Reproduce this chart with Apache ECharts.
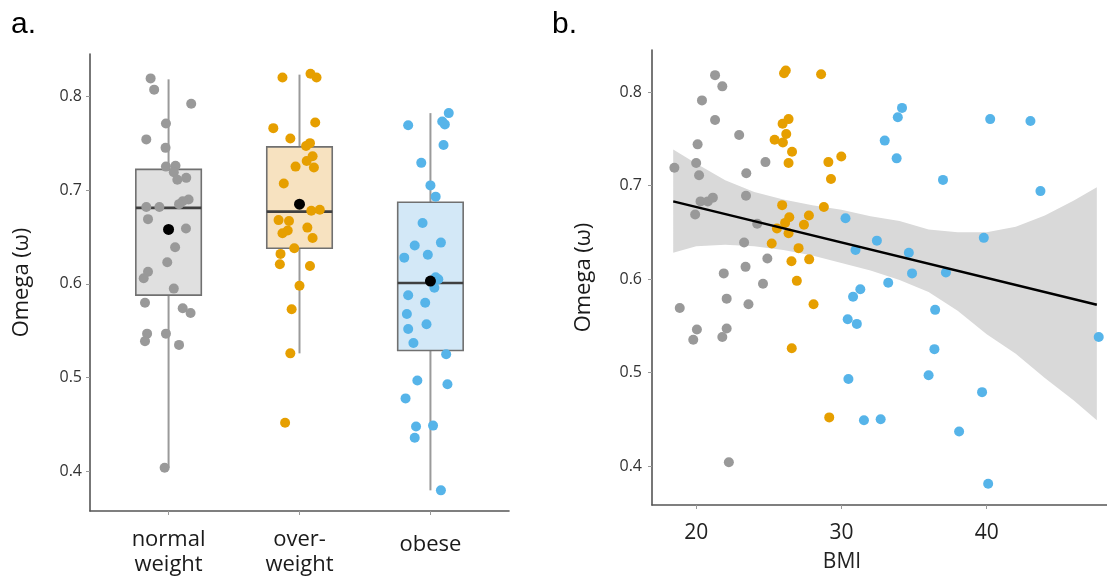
<!DOCTYPE html>
<html>
<head>
<meta charset="utf-8">
<script src="https://cdn.jsdelivr.net/npm/echarts@6/dist/echarts.min.js"></script>
<style>
  html, body { margin: 0; padding: 0; background: #fff; }
  #chart { width: 1107px; height: 581px; }
</style>
</head>
<body>
<div id="chart"></div>
<script>
// groups on panel a (x = 1, 2, 3)
const groups = ['normal\nweight', 'over-\nweight', 'obese']

// panel a: jittered x position and omega
const normalX = [0.863, 0.89, 1.173, 0.98, 0.83, 0.977, 0.98, 1.053, 1.04, 1.067, 1.135, 1.153, 1.108, 1.08, 0.83, 0.93, 0.843, 1.133, 1.05, 0.99, 0.843, 0.81, 1.04, 0.82, 1.108, 1.168, 0.836, 0.98, 0.82, 1.08, 0.97]
const normalW = [0.819, 0.807, 0.792, 0.771, 0.754, 0.745, 0.725, 0.726, 0.719, 0.711, 0.713, 0.690, 0.688, 0.685, 0.682, 0.682, 0.669, 0.659, 0.639, 0.623, 0.613, 0.606, 0.595, 0.580, 0.574, 0.569, 0.547, 0.547, 0.539, 0.535, 0.404]
const overX = [1.87, 2.084, 2.13, 2.12, 1.80, 1.93, 2.08, 2.05, 2.10, 2.055, 1.97, 2.11, 1.88, 2.09, 2.155, 1.84, 1.92, 1.91, 1.87, 2.06, 2.10, 1.96, 1.855, 1.85, 2.08, 2.0, 1.94, 1.93, 1.89]
const overW = [0.820, 0.824, 0.820, 0.772, 0.766, 0.755, 0.750, 0.747, 0.736, 0.731, 0.725, 0.724, 0.707, 0.678, 0.679, 0.668, 0.667, 0.657, 0.654, 0.660, 0.649, 0.638, 0.632, 0.621, 0.619, 0.598, 0.573, 0.526, 0.452]
const obeseX = [3.14, 3.09, 3.11, 2.83, 3.10, 2.93, 3.0, 3.04, 2.94, 2.88, 3.08, 2.98, 2.80, 3.04, 3.03, 3.06, 2.83, 2.96, 2.82, 2.83, 2.97, 2.87, 3.12, 2.90, 3.13, 2.81, 2.89, 3.02, 2.88, 3.08]
const obeseW = [0.782, 0.773, 0.770, 0.769, 0.748, 0.729, 0.705, 0.693, 0.665, 0.641, 0.644, 0.631, 0.628, 0.607, 0.596, 0.605, 0.588, 0.580, 0.568, 0.552, 0.557, 0.537, 0.525, 0.497, 0.493, 0.478, 0.448, 0.449, 0.436, 0.380]

// panel a: box stats (lower whisker, q1, median, q3, upper whisker) and means
const boxLow = [0.404, 0.526, 0.380]
const boxQ1 = [0.588, 0.638, 0.529]
const boxMed = [0.681, 0.677, 0.601]
const boxQ3 = [0.722, 0.746, 0.687]
const boxHigh = [0.818, 0.823, 0.782]
const groupMeans = [0.658, 0.685, 0.603]

// panel b: BMI and omega
const normalBmi = [18.5, 18.87, 19.8, 20.05, 19.93, 20.1, 20.0, 20.2, 20.4, 20.3, 20.8, 21.15, 21.3, 21.3, 21.8, 21.9, 22.1, 22.1, 21.8, 22.25, 22.96, 23.45, 23.43, 23.3, 23.4, 23.6, 24.2, 24.6, 24.77, 24.9]
const normalOmega = [0.719, 0.569, 0.535, 0.546, 0.669, 0.744, 0.724, 0.711, 0.791, 0.683, 0.683, 0.687, 0.818, 0.770, 0.806, 0.606, 0.579, 0.547, 0.538, 0.404, 0.754, 0.713, 0.689, 0.639, 0.613, 0.573, 0.659, 0.595, 0.725, 0.622]
const overBmi = [26.05, 26.17, 28.6, 25.95, 26.36, 25.4, 26.2, 25.97, 26.6, 26.36, 29.1, 29.99, 29.28, 25.92, 28.79, 26.41, 27.76, 26.12, 27.42, 25.56, 26.36, 25.2, 27.05, 26.56, 27.78, 26.93, 28.08, 26.58, 29.16]
const overOmega = [0.820, 0.823, 0.819, 0.766, 0.771, 0.749, 0.755, 0.746, 0.736, 0.724, 0.725, 0.731, 0.707, 0.679, 0.677, 0.666, 0.668, 0.660, 0.658, 0.654, 0.649, 0.638, 0.633, 0.619, 0.621, 0.598, 0.573, 0.526, 0.452]
const obeseBmi = [34.17, 33.88, 40.24, 43.01, 32.98, 33.8, 36.99, 43.7, 30.28, 32.44, 39.8, 30.97, 34.64, 34.86, 37.19, 33.22, 31.3, 30.8, 36.45, 30.43, 31.06, 47.71, 36.4, 30.48, 36.0, 39.68, 31.55, 32.7, 38.1, 40.1]
const obeseOmega = [0.783, 0.773, 0.771, 0.769, 0.748, 0.729, 0.706, 0.694, 0.665, 0.641, 0.644, 0.631, 0.628, 0.606, 0.607, 0.596, 0.589, 0.581, 0.567, 0.557, 0.552, 0.538, 0.525, 0.493, 0.497, 0.479, 0.449, 0.450, 0.437, 0.381]

// panel b: fitted line and its confidence band
const fitBmi = [18.42, 47.58]
const fitOmega = [0.683, 0.5725]
const bandBmi = [18.42, 20, 22, 24, 26, 28, 30, 32, 34, 36, 38, 40, 42, 44, 46, 47.58]
const bandLow = [0.628, 0.635, 0.6367, 0.635, 0.631, 0.625, 0.617, 0.609, 0.599, 0.586, 0.566, 0.541, 0.520, 0.494, 0.470, 0.449]
const bandHigh = [0.7385, 0.7235, 0.7055, 0.693, 0.685, 0.679, 0.674, 0.667, 0.662, 0.653, 0.650, 0.650, 0.656, 0.668, 0.684, 0.698]

const omegaTicks = [0.4, 0.5, 0.6, 0.7, 0.8]
const bmiTicks = [20, 30, 40]

const colors = ['#999999', '#E69F00', '#56B4E9']
const boxFills = ['#e0e0e0', '#f7e2c0', '#d3e8f7']
const font = 'Open Sans'

const zip = (a, b) => a.map((v, i) => [v, b[i]])

function renderBox (params, api) {
  const x = api.value(0)
  const lo = api.coord([x, api.value(1)])
  const q1 = api.coord([x, api.value(2)])
  const med = api.coord([x, api.value(3)])
  const q3 = api.coord([x, api.value(4)])
  const hi = api.coord([x, api.value(5)])
  const w = api.size([0.5, 0])[0]
  const whisker = { stroke: '#9a9a9a', lineWidth: 2 }
  return {
    type: 'group',
    children: [
      { type: 'line', shape: { x1: lo[0], y1: lo[1], x2: q1[0], y2: q1[1] }, style: whisker },
      { type: 'line', shape: { x1: q3[0], y1: q3[1], x2: hi[0], y2: hi[1] }, style: whisker },
      {
        type: 'rect',
        shape: { x: q3[0] - w / 2, y: q3[1], width: w, height: q1[1] - q3[1] },
        style: { fill: boxFills[params.dataIndex], stroke: '#707070', lineWidth: 1.6 }
      },
      {
        type: 'line',
        shape: { x1: med[0] - w / 2, y1: med[1], x2: med[0] + w / 2, y2: med[1] },
        style: { stroke: '#404040', lineWidth: 2.6 }
      }
    ]
  }
}

function renderBand (params, api) {
  if (params.dataIndex !== 0) return null
  const top = bandBmi.map((x, i) => api.coord([x, bandHigh[i]]))
  const bottom = bandBmi.map((x, i) => api.coord([x, bandLow[i]])).reverse()
  return {
    type: 'polygon',
    shape: { points: top.concat(bottom) },
    style: { fill: '#d9d9d9' }
  }
}

function scatter (name, xi, yi, data, color) {
  return {
    name: name,
    type: 'scatter',
    xAxisIndex: xi,
    yAxisIndex: yi,
    data: data,
    symbolSize: 10,
    itemStyle: { color: color, opacity: 1 },
    z: 3
  }
}

const yAxisBase = {
  type: 'value',
  min: 0.358,
  max: 0.845,
  name: 'Omega (ω)',
  nameLocation: 'middle',
  nameRotate: 90,
  nameTextStyle: { fontFamily: font, fontSize: 22, color: '#1a1a1a' },
  axisLine: { show: true, onZero: false, lineStyle: { color: '#555', width: 1.6 } },
  axisTick: { show: true, customValues: omegaTicks, length: 4, lineStyle: { color: '#999' } },
  axisLabel: { customValues: omegaTicks, fontFamily: font, fontSize: 16, color: '#333' },
  splitLine: { show: false }
}

const option = {
  animation: false,
  backgroundColor: '#fff',
  grid: [
    { left: 90, top: 54, width: 419, height: 457 },
    { left: 652, top: 50, width: 455, height: 455 }
  ],
  xAxis: [
    {
      type: 'value',
      gridIndex: 0,
      min: 0.4,
      max: 3.6,
      axisLine: { onZero: false, lineStyle: { color: '#555', width: 1.6 } },
      axisTick: { show: true, customValues: [1, 2, 3], length: 4, lineStyle: { color: '#999' } },
      axisLabel: {
        customValues: [1, 2, 3],
        margin: 16,
        fontFamily: font,
        fontSize: 22,
        lineHeight: 25,
        color: '#1a1a1a',
        formatter: v => {
          const t = groups[Math.round(v) - 1]
          return t.indexOf('\n') < 0 ? '{o|' + t + '}' : t
        },
        rich: { o: { fontFamily: font, fontSize: 22, color: '#1a1a1a', padding: [10, 0, 0, 0] } }
      },
      splitLine: { show: false }
    },
    {
      type: 'value',
      gridIndex: 1,
      min: 16.96,
      max: 48.28,
      axisLine: { onZero: false, lineStyle: { color: '#555', width: 1.6 } },
      axisTick: { show: true, customValues: bmiTicks, length: 4, lineStyle: { color: '#999' } },
      axisLabel: { customValues: bmiTicks, margin: 18, fontFamily: font, fontSize: 21, color: '#222' },
      splitLine: { show: false }
    }
  ],
  yAxis: [
    Object.assign({}, yAxisBase, { gridIndex: 0, nameGap: 57 }),
    Object.assign({}, yAxisBase, { gridIndex: 1, nameGap: 57, min: 0.3583, max: 0.8449, axisLabel: Object.assign({}, yAxisBase.axisLabel, { margin: 10 }) })
  ],
  graphic: [
    { type: 'text', left: 11, top: 10, style: { text: 'a.', font: '30px "Liberation Sans"', fill: '#000' } },
    { type: 'text', left: 552, top: 10, style: { text: 'b.', font: '30px "Liberation Sans"', fill: '#000' } },
    { type: 'text', x: 842, y: 562, style: { text: 'BMI', font: '21px "Open Sans"', fill: '#222', textAlign: 'center', textVerticalAlign: 'middle' } }
  ],
  series: [
    {
      type: 'custom',
      xAxisIndex: 0,
      yAxisIndex: 0,
      renderItem: renderBox,
      encode: { x: 0, y: [1, 2, 3, 4, 5] },
      data: groups.map((g, i) => [i + 1, boxLow[i], boxQ1[i], boxMed[i], boxQ3[i], boxHigh[i]]),
      z: 1,
      silent: true
    },
    scatter('normal a', 0, 0, zip(normalX, normalW), colors[0]),
    scatter('over a', 0, 0, zip(overX, overW), colors[1]),
    scatter('obese a', 0, 0, zip(obeseX, obeseW), colors[2]),
    {
      type: 'scatter',
      xAxisIndex: 0,
      yAxisIndex: 0,
      data: groupMeans.map((m, i) => [i + 1, m]),
      symbolSize: 11,
      itemStyle: { color: '#000', opacity: 1 },
      z: 4
    },
    {
      type: 'custom',
      xAxisIndex: 1,
      yAxisIndex: 1,
      renderItem: renderBand,
      encode: { x: 0, y: [1, 2] },
      data: bandBmi.map((x, i) => [x, bandLow[i], bandHigh[i]]),
      z: 1,
      silent: true
    },
    scatter('normal b', 1, 1, zip(normalBmi, normalOmega), colors[0]),
    scatter('over b', 1, 1, zip(overBmi, overOmega), colors[1]),
    scatter('obese b', 1, 1, zip(obeseBmi, obeseOmega), colors[2]),
    {
      type: 'line',
      xAxisIndex: 1,
      yAxisIndex: 1,
      data: zip(fitBmi, fitOmega),
      showSymbol: false,
      lineStyle: { color: '#000', width: 2.4 },
      z: 4
    }
  ]
}

const chart = echarts.init(document.getElementById('chart'))
chart.setOption(option)
</script>
</body>
</html>
